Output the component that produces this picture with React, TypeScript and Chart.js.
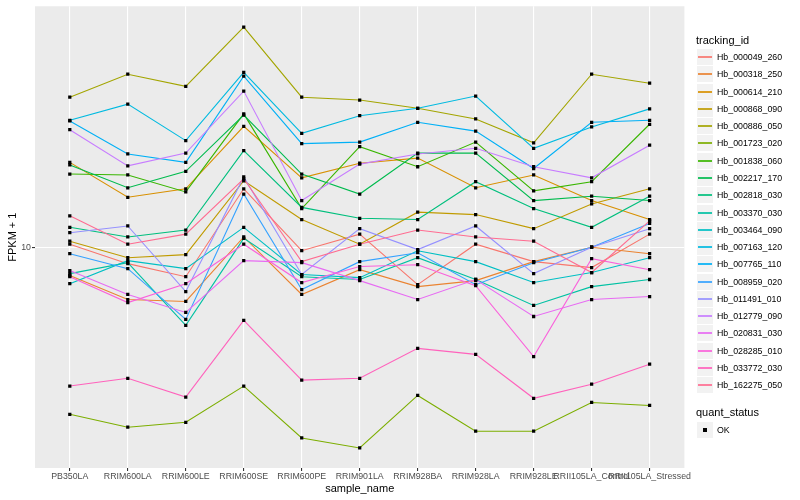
import React, { useEffect, useRef } from 'react';
import { Chart, registerables } from 'chart.js';

Chart.register(...registerables);

const samples = [
  'PB350LA', 'RRIM600LA', 'RRIM600LE', 'RRIM600SE', 'RRIM600PE', 'RRIM901LA',
  'RRIM928BA', 'RRIM928LA', 'RRIM928LE', 'RRII105LA_Control', 'RRII105LA_Stressed',
];

const trackingIds = [
  'Hb_000049_260', 'Hb_000318_250', 'Hb_000614_210', 'Hb_000868_090', 'Hb_000886_050',
  'Hb_001723_020', 'Hb_001838_060', 'Hb_002217_170', 'Hb_002818_030', 'Hb_003370_030',
  'Hb_003464_090', 'Hb_007163_120', 'Hb_007765_110', 'Hb_008959_020', 'Hb_011491_010',
  'Hb_012779_090', 'Hb_020831_030', 'Hb_028285_010', 'Hb_033772_030', 'Hb_162275_050',
];

// FPKM + 1 per sample (order of `samples`)
const hb000049_260 = [10.2, 8.97, 8.23, 14.7, 9.77, 10.9, 7.81, 10.2, 9.09, 8.74, 10.9];
const hb000318_250 = [8.29, 7.08, 6.99, 10.7, 7.32, 8.62, 7.71, 8.02, 9.09, 10.0, 9.58];
const hb000614_210 = [17.5, 13.9, 14.7, 22.2, 15.8, 17.4, 18.0, 14.8, 16.1, 13.6, 12.0];
const hb000868_090 = [10.4, 9.33, 9.52, 15.5, 12.0, 10.2, 12.6, 12.4, 11.3, 13.3, 14.7];
const hb000886_050 = [26.9, 31.3, 28.9, 42.7, 26.9, 26.4, 25.0, 23.3, 19.9, 31.3, 29.5];
const hb001723_020 = [3.32, 3.05, 3.15, 4.0, 2.84, 2.66, 3.76, 2.97, 2.97, 3.59, 3.52];
const hb001838_060 = [16.2, 16.1, 14.4, 24.1, 12.9, 19.4, 17.0, 20.0, 14.5, 15.4, 22.5];
const hb002217_170 = [17.2, 14.8, 16.5, 23.9, 16.2, 14.2, 18.6, 18.6, 13.6, 14.0, 13.6];
const hb002818_030 = [11.4, 10.7, 11.2, 18.9, 13.0, 12.1, 12.0, 15.4, 12.9, 11.4, 14.0];
const hb003370_030 = [8.4, 9.03, 5.97, 10.6, 8.23, 8.08, 9.33, 8.08, 6.81, 7.71, 8.08];
const hb003464_090 = [7.86, 9.15, 8.68, 11.4, 8.35, 8.18, 9.77, 9.09, 7.92, 8.46, 9.33];
const hb007163_120 = [23.1, 25.7, 20.2, 31.7, 21.2, 23.8, 25.0, 27.1, 19.2, 22.1, 24.9];
const hb007765_110 = [23.0, 18.5, 17.5, 30.9, 19.8, 20.0, 22.8, 21.5, 16.8, 22.8, 23.1];
const hb008959_020 = [9.58, 8.68, 6.21, 14.2, 7.56, 9.09, 9.64, 7.81, 9.03, 10.0, 11.7];
const hb011491_010 = [11.0, 11.5, 7.46, 15.9, 8.35, 11.3, 9.84, 11.5, 8.4, 10.0, 11.3];
const hb012779_090 = [21.7, 17.1, 18.6, 28.0, 13.6, 17.3, 18.5, 19.2, 17.0, 15.8, 19.6];
const hb020831_030 = [8.57, 7.32, 6.5, 9.15, 9.03, 8.02, 7.08, 8.08, 6.33, 7.08, 7.22];
const hb028285_010 = [8.23, 6.94, 7.86, 10.2, 7.92, 8.8, 8.91, 7.76, 4.86, 9.27, 8.62];
const hb033772_030 = [4.0, 4.21, 3.72, 6.17, 4.16, 4.21, 5.13, 4.93, 3.69, 4.05, 4.62];
const hb162275_050 = [12.3, 10.2, 10.9, 15.7, 9.09, 10.2, 11.2, 10.7, 10.4, 8.46, 11.9];

const seriesValues = [
  hb000049_260, hb000318_250, hb000614_210, hb000868_090, hb000886_050,
  hb001723_020, hb001838_060, hb002217_170, hb002818_030, hb003370_030,
  hb003464_090, hb007163_120, hb007765_110, hb008959_020, hb011491_010,
  hb012779_090, hb020831_030, hb028285_010, hb033772_030, hb162275_050,
];

const seriesColors = [
  '#F8766D', '#EA8331', '#D89000', '#C09B00', '#A3A500', '#7CAE00', '#39B600',
  '#00BB4E', '#00BF7D', '#00C1A3', '#00BFC4', '#00BAE0', '#00B0F6', '#35A2FF',
  '#9590FF', '#C77CFF', '#E76BF3', '#FA62DB', '#FF62BC', '#FF6C91',
];

const yTickValues = [10];
const quantStatus = ['OK'];

const FONT = '"Liberation Sans", Arial, Helvetica, sans-serif';

const panelBg = {
  id: 'panelBg',
  beforeDraw(chart: any) {
    const { ctx, chartArea: a } = chart;
    ctx.save();
    ctx.fillStyle = '#EBEBEB';
    ctx.fillRect(a.left, a.top, a.right - a.left, a.bottom - a.top);
    ctx.restore();
  },
};

export default function App() {
  const ref = useRef<HTMLCanvasElement | null>(null);

  useEffect(() => {
    if (!ref.current) return;
    const datasets: any[] = [];
    seriesValues.forEach((vals, i) => {
      datasets.push({
        type: 'line',
        label: trackingIds[i],
        data: vals.map((v, j) => ({ x: j, y: v })),
        borderColor: seriesColors[i],
        backgroundColor: seriesColors[i],
        borderWidth: 1.1,
        pointRadius: 0,
        fill: false,
        tension: 0,
        order: 100 - i,
      });
    });
    seriesValues.forEach((vals, i) => {
      datasets.push({
        type: 'line',
        label: trackingIds[i] + ' ' + quantStatus[0],
        data: vals.map((v, j) => ({ x: j, y: v })),
        showLine: false,
        pointStyle: 'rect',
        pointRadius: 2.3,
        pointBackgroundColor: '#000000',
        pointBorderColor: '#000000',
        pointBorderWidth: 0,
        order: 0,
      });
    });

    const chart = new Chart(ref.current, {
      type: 'line',
      data: { datasets },
      plugins: [panelBg],
      options: {
        animation: false,
        responsive: false,
        devicePixelRatio: 1,
        events: [],
        layout: { padding: { top: 5, right: 115.6, bottom: 0, left: 0 } },
        plugins: { legend: { display: false }, tooltip: { enabled: false } },
        scales: {
          x: {
            type: 'linear',
            min: -0.6,
            max: 10.6,
            bounds: 'data',
            afterBuildTicks: (s: any) => {
              s.ticks = samples.map((_, i) => ({ value: i }));
            },
            afterFit: (s: any) => {
              s.height = 32;
            },
            ticks: {
              callback: (v: any) => samples[v] ?? '',
              autoSkip: false,
              maxRotation: 0,
              minRotation: 0,
              color: '#4D4D4D',
              font: { family: FONT, size: 8.8 },
              padding: 0,
            },
            grid: {
              color: '#FFFFFF',
              lineWidth: 1.1,
              tickColor: '#333333',
              tickLength: 3,
              drawTicks: true,
            },
            border: { display: false },
            title: {
              display: true,
              text: 'sample_name',
              color: '#000000',
              font: { family: FONT, size: 11 },
              padding: { top: 0, bottom: 4.4 },
            },
          },
          y: {
            type: 'logarithmic',
            min: 2.33,
            max: 49,
            bounds: 'data',
            afterBuildTicks: (s: any) => {
              s.ticks = yTickValues.map((v) => ({ value: v }));
            },
            afterFit: (s: any) => {
              s.width = 35;
            },
            ticks: {
              callback: (v: any) => String(v),
              color: '#4D4D4D',
              font: { family: FONT, size: 8.8 },
              padding: 1,
            },
            grid: {
              color: '#FFFFFF',
              lineWidth: 1.1,
              tickColor: '#333333',
              tickLength: 3,
              drawTicks: true,
            },
            border: { display: false },
            title: {
              display: true,
              text: 'FPKM + 1',
              color: '#000000',
              font: { family: FONT, size: 11 },
              padding: { top: 6.4, bottom: 0 },
            },
          },
        },
      } as any,
    });
    return () => chart.destroy();
  }, []);

  const rowH = 17.28;
  const legendTop = 48;
  const boxSize = 16;

  const keyRow = (key: string, top: number, mark: React.ReactNode, text: string) => {
    const t = Math.round(top);
    return (
      <div key={key} style={{ position: 'absolute', left: 0, top: t, width: 800, height: 17 }}>
        <div style={{ position: 'absolute', left: 697, top: 1, width: boxSize, height: boxSize, background: '#F2F2F2' }} />
        {mark}
        <div style={{ position: 'absolute', left: 717, top: 0, height: 18, lineHeight: '18px', fontSize: 8.8, color: '#000', whiteSpace: 'nowrap' }}>{text}</div>
      </div>
    );
  };

  return (
    <div style={{ position: 'fixed', left: 0, top: 0, width: 800, height: 500, background: '#FFFFFF', fontFamily: FONT }}>
      <canvas ref={ref} width={800} height={500} style={{ position: 'absolute', left: 0, top: 0, width: 800, height: 500 }} />
      <div style={{ position: 'absolute', left: 696, top: 34, fontSize: 11, lineHeight: '13px', color: '#000' }}>tracking_id</div>
      {trackingIds.map((id, i) =>
        keyRow(
          id,
          legendTop + rowH * i,
          <div style={{ position: 'absolute', left: 698, top: 8, width: 14, height: 2, background: seriesColors[i], opacity: 0.85 }} />,
          id,
        ),
      )}
      <div style={{ position: 'absolute', left: 696, top: 406, fontSize: 11, lineHeight: '13px', color: '#000' }}>quant_status</div>
      {quantStatus.map((q, i) =>
        keyRow(
          q,
          421 + rowH * i,
          <div style={{ position: 'absolute', left: 703, top: 7, width: 4, height: 4, background: '#000' }} />,
          q,
        ),
      )}
    </div>
  );
}
